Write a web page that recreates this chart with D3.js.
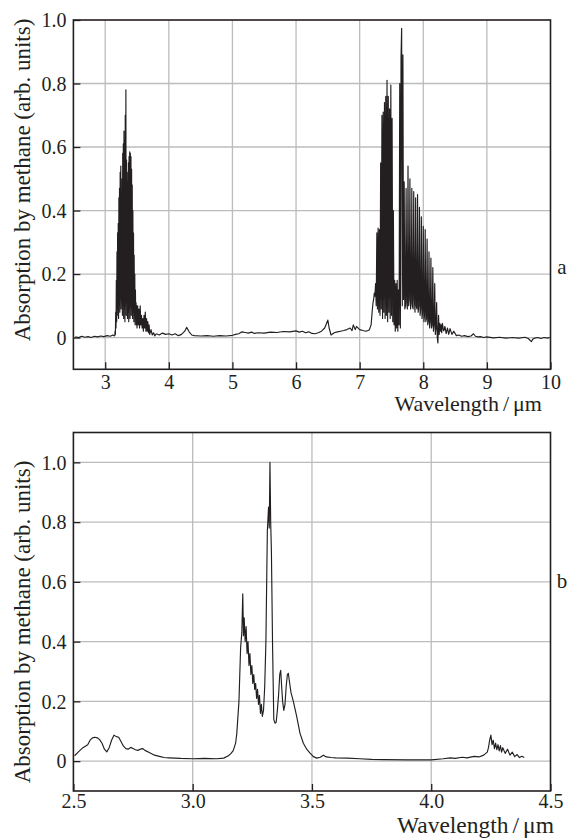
<!DOCTYPE html>
<html lang="en">
<head>
<meta charset="utf-8">
<title>Absorption by methane</title>
<script src="https://cdnjs.cloudflare.com/ajax/libs/d3/7.8.5/d3.min.js"></script>
<style>
  body { margin: 0; background: #fff; }
  svg { display: block; }
</style>
</head>
<body>
<div id="chart"></div>
<script>
// ---- panel a: 2.5 - 10 um, [wavelength, absorption] ----
var aBaseline = [
  [2.53, 0.002], [2.58, 0.0], [2.63, 0.004], [2.68, 0.001], [2.73, 0.003], [2.78, 0.0],
  [2.83, 0.004], [2.88, 0.002], [2.93, 0.005], [2.98, 0.003], [3.03, 0.006], [3.08, 0.004],
  [3.12, 0.008], [3.145, 0.005]
];
var aBand3 = [
  [3.150, 0.005], [3.155, 0.02], [3.160, 0.01], [3.165, 0.08], [3.170, 0.03], [3.175, 0.18],
  [3.180, 0.05], [3.185, 0.27], [3.190, 0.07], [3.195, 0.33], [3.200, 0.09], [3.205, 0.36],
  [3.210, 0.06], [3.215, 0.44], [3.220, 0.10], [3.225, 0.47], [3.230, 0.08], [3.235, 0.52],
  [3.240, 0.12], [3.245, 0.54], [3.250, 0.09], [3.255, 0.46], [3.260, 0.11], [3.265, 0.50],
  [3.270, 0.07], [3.275, 0.58], [3.280, 0.10], [3.285, 0.61], [3.290, 0.06], [3.295, 0.65],
  [3.300, 0.09], [3.305, 0.62], [3.310, 0.05], [3.315, 0.70], [3.320, 0.10], [3.325, 0.78],
  [3.330, 0.07], [3.335, 0.56], [3.340, 0.11], [3.345, 0.52], [3.350, 0.06], [3.355, 0.49],
  [3.360, 0.08], [3.365, 0.55], [3.370, 0.05], [3.375, 0.57], [3.380, 0.09], [3.385, 0.585],
  [3.390, 0.06], [3.395, 0.58], [3.400, 0.10], [3.405, 0.57], [3.410, 0.07], [3.415, 0.53],
  [3.420, 0.09], [3.425, 0.48], [3.430, 0.06], [3.435, 0.40], [3.440, 0.08], [3.445, 0.33],
  [3.450, 0.05], [3.455, 0.26], [3.460, 0.07], [3.465, 0.20], [3.470, 0.04], [3.475, 0.15],
  [3.480, 0.06], [3.485, 0.11], [3.490, 0.04], [3.495, 0.10], [3.500, 0.03],
  [3.51, 0.10], [3.52, 0.04], [3.53, 0.09], [3.54, 0.03], [3.55, 0.10], [3.56, 0.04],
  [3.57, 0.07], [3.58, 0.03], [3.59, 0.06], [3.60, 0.02], [3.61, 0.07], [3.62, 0.03],
  [3.63, 0.08], [3.64, 0.02], [3.65, 0.06], [3.66, 0.02], [3.67, 0.05], [3.68, 0.015],
  [3.69, 0.04], [3.70, 0.01], [3.72, 0.025], [3.74, 0.008], [3.76, 0.015], [3.78, 0.005]
];
var aMiddle = [
  [3.80, 0.012], [3.85, 0.008], [3.90, 0.014], [3.95, 0.01], [4.00, 0.012], [4.05, 0.008],
  [4.10, 0.012], [4.15, 0.006], [4.20, 0.01], [4.25, 0.02], [4.28, 0.032], [4.32, 0.018],
  [4.36, 0.008], [4.40, 0.006], [4.50, 0.005], [4.60, 0.006], [4.70, 0.004], [4.80, 0.006],
  [4.90, 0.005], [5.00, 0.007], [5.05, 0.01], [5.10, 0.012], [5.15, 0.018], [5.20, 0.016],
  [5.25, 0.014], [5.30, 0.017], [5.35, 0.013], [5.40, 0.015], [5.50, 0.014], [5.60, 0.017],
  [5.70, 0.016], [5.80, 0.019], [5.90, 0.018], [6.00, 0.021], [6.05, 0.017], [6.10, 0.02],
  [6.15, 0.015], [6.20, 0.018], [6.25, 0.013], [6.30, 0.012], [6.35, 0.015], [6.40, 0.02],
  [6.45, 0.03], [6.48, 0.045], [6.50, 0.055], [6.52, 0.03], [6.55, 0.008], [6.60, 0.015],
  [6.65, 0.018], [6.70, 0.02], [6.75, 0.022], [6.80, 0.025], [6.85, 0.03], [6.88, 0.022],
  [6.90, 0.04], [6.93, 0.025], [6.95, 0.035], [7.00, 0.025], [7.05, 0.022], [7.10, 0.02],
  [7.15, 0.024], [7.18, 0.04]
];
var aBand7 = [
  [7.20, 0.09], [7.21, 0.11], [7.22, 0.12], [7.23, 0.14], [7.24, 0.13], [7.25, 0.17],
  [7.26, 0.10], [7.27, 0.33], [7.28, 0.09], [7.29, 0.345], [7.30, 0.08], [7.31, 0.34],
  [7.32, 0.07], [7.33, 0.55], [7.34, 0.09], [7.35, 0.70], [7.36, 0.06], [7.37, 0.71],
  [7.38, 0.08], [7.39, 0.74], [7.40, 0.06], [7.41, 0.76], [7.42, 0.07], [7.43, 0.81],
  [7.44, 0.05], [7.45, 0.76], [7.46, 0.08], [7.47, 0.72], [7.48, 0.06], [7.49, 0.795],
  [7.50, 0.07], [7.51, 0.69], [7.52, 0.05], [7.53, 0.40], [7.54, 0.04], [7.55, 0.18],
  [7.56, 0.02], [7.57, 0.17], [7.58, 0.03], [7.59, 0.18], [7.60, 0.02], [7.61, 0.15],
  [7.62, 0.04], [7.63, 0.80], [7.64, 0.03], [7.65, 0.88], [7.66, 0.974], [7.67, 0.10],
  [7.68, 0.89], [7.69, 0.12], [7.70, 0.49], [7.71, 0.09], [7.72, 0.10], [7.73, 0.47],
  [7.74, 0.11], [7.75, 0.09], [7.76, 0.54], [7.77, 0.10], [7.78, 0.12], [7.79, 0.50],
  [7.80, 0.09], [7.81, 0.11], [7.82, 0.47], [7.83, 0.10], [7.84, 0.09], [7.85, 0.46],
  [7.86, 0.12], [7.87, 0.08], [7.88, 0.44], [7.89, 0.10], [7.90, 0.09], [7.91, 0.45],
  [7.92, 0.08], [7.93, 0.10], [7.94, 0.41], [7.95, 0.07], [7.96, 0.09], [7.97, 0.38],
  [7.98, 0.06], [7.99, 0.08], [8.00, 0.35], [8.01, 0.05], [8.02, 0.07], [8.03, 0.34],
  [8.04, 0.05], [8.05, 0.06], [8.06, 0.31], [8.07, 0.04], [8.08, 0.05], [8.09, 0.27],
  [8.10, 0.03], [8.11, 0.05], [8.12, 0.25], [8.13, 0.03], [8.14, 0.04], [8.15, 0.22],
  [8.16, 0.02], [8.17, 0.04], [8.18, 0.17], [8.19, 0.01], [8.20, 0.03], [8.21, 0.11],
  [8.22, 0.0], [8.23, -0.017], [8.24, 0.07], [8.25, 0.01], [8.26, 0.045], [8.27, 0.02],
  [8.28, 0.04], [8.29, 0.015], [8.30, 0.045]
];
var aTail = [
  [8.32, 0.02], [8.34, 0.035], [8.36, 0.012], [8.38, 0.03], [8.40, 0.01], [8.42, 0.028],
  [8.45, 0.01], [8.48, 0.02], [8.52, 0.006], [8.56, 0.008], [8.60, 0.004], [8.65, 0.006],
  [8.70, 0.003], [8.75, 0.005], [8.79, 0.012], [8.82, 0.004], [8.86, 0.002], [8.90, 0.003],
  [8.95, 0.0], [9.00, 0.002], [9.10, -0.001], [9.20, 0.001], [9.30, -0.002], [9.40, 0.0],
  [9.50, -0.002], [9.60, 0.001], [9.65, -0.003], [9.70, -0.013], [9.72, -0.005], [9.75, -0.002],
  [9.80, 0.0], [9.85, -0.003], [9.90, 0.0], [9.95, -0.002], [9.99, 0.0]
];

// ---- panel b: 2.5 - 4.5 um ----
var bSpectrum = [
  [2.505, 0.018], [2.52, 0.03], [2.54, 0.045], [2.56, 0.055], [2.57, 0.07], [2.58, 0.078],
  [2.59, 0.08], [2.60, 0.078], [2.61, 0.072], [2.62, 0.06], [2.63, 0.04], [2.64, 0.031],
  [2.65, 0.045], [2.66, 0.07], [2.67, 0.087], [2.68, 0.082], [2.69, 0.08], [2.70, 0.065],
  [2.71, 0.05], [2.72, 0.042], [2.73, 0.04], [2.74, 0.046], [2.75, 0.042], [2.76, 0.038],
  [2.77, 0.036], [2.78, 0.04], [2.79, 0.042], [2.80, 0.036], [2.82, 0.028], [2.84, 0.02],
  [2.86, 0.016], [2.88, 0.012], [2.90, 0.011], [2.95, 0.009], [3.00, 0.008], [3.05, 0.009],
  [3.10, 0.008], [3.13, 0.01], [3.15, 0.018], [3.16, 0.025], [3.17, 0.035], [3.18, 0.06],
  [3.185, 0.093], [3.194, 0.2], [3.201, 0.38], [3.206, 0.43], [3.210, 0.56], [3.213, 0.42],
  [3.216, 0.48], [3.220, 0.40], [3.224, 0.45], [3.228, 0.36], [3.232, 0.40], [3.236, 0.32],
  [3.240, 0.36], [3.244, 0.29], [3.248, 0.32], [3.252, 0.26], [3.256, 0.29], [3.260, 0.24],
  [3.264, 0.26], [3.268, 0.21], [3.272, 0.24], [3.276, 0.19], [3.280, 0.22], [3.284, 0.16],
  [3.288, 0.19], [3.292, 0.15], [3.297, 0.17], [3.302, 0.25], [3.307, 0.40], [3.313, 0.77],
  [3.318, 0.85], [3.321, 0.78], [3.324, 1.0], [3.327, 0.80], [3.330, 0.706], [3.335, 0.38],
  [3.340, 0.14], [3.345, 0.127], [3.350, 0.13], [3.355, 0.17], [3.360, 0.22], [3.365, 0.29],
  [3.369, 0.304], [3.373, 0.25], [3.377, 0.20], [3.382, 0.17], [3.387, 0.19], [3.392, 0.25],
  [3.397, 0.29], [3.401, 0.294], [3.405, 0.27], [3.412, 0.23], [3.422, 0.20], [3.436, 0.15],
  [3.450, 0.093], [3.464, 0.06], [3.478, 0.04], [3.492, 0.027], [3.506, 0.015], [3.52, 0.01],
  [3.535, 0.013], [3.548, 0.02], [3.56, 0.014], [3.58, 0.012], [3.60, 0.011], [3.65, 0.01],
  [3.70, 0.008], [3.75, 0.006], [3.80, 0.005], [3.90, 0.004], [4.00, 0.004], [4.05, 0.008],
  [4.08, 0.011], [4.10, 0.009], [4.13, 0.013], [4.15, 0.011], [4.18, 0.016], [4.20, 0.014],
  [4.22, 0.02], [4.235, 0.03], [4.24, 0.045], [4.245, 0.07], [4.25, 0.087], [4.255, 0.055],
  [4.26, 0.07], [4.265, 0.042], [4.27, 0.06], [4.275, 0.038], [4.28, 0.055], [4.285, 0.034],
  [4.29, 0.052], [4.295, 0.03], [4.30, 0.045], [4.31, 0.026], [4.32, 0.04], [4.33, 0.02],
  [4.34, 0.03], [4.35, 0.015], [4.36, 0.022], [4.37, 0.012], [4.38, 0.016], [4.39, 0.012]
];

// ticks
var aXTicks = [3, 4, 5, 6, 7, 8, 9, 10];
var bXTicks = [2.5, 3.0, 3.5, 4.0, 4.5];
var yTicks = [0, 0.2, 0.4, 0.6, 0.8, 1.0];
var yTitle = "Absorption by methane (arb. units)";

var width = 579, height = 839;
var ink = "#231f20";
var serif = "'Liberation Serif', 'Times New Roman', Tinos, serif";

var svg = d3.select("#chart")
    .append("svg")
    .attr("width", width)
    .attr("height", height)
    .style("background-color", "white")
    .style("font-family", serif);

var line = d3.line();

function drawPanel(p) {
    var x = d3.scaleLinear().domain(p.xDomain).range([73.4, 550.5]);
    var y = d3.scaleLinear().domain(p.yDomain).range([p.bottom, p.top]);
    var g = svg.append("g");

    // grid lines, skip the ones that sit on the frame
    g.append("g").selectAll("line")
        .data(p.xTicks.filter(function(d) { return d > p.xDomain[0] && d < p.xDomain[1]; }))
        .enter().append("line")
        .attr("x1", function(d) { return x(d); })
        .attr("x2", function(d) { return x(d); })
        .attr("y1", p.top).attr("y2", p.bottom)
        .style("stroke", "#bcbcbc").style("stroke-width", 1.3);
    g.append("g").selectAll("line")
        .data(yTicks.filter(function(d) { return y(d) > p.top + 1; }))
        .enter().append("line")
        .attr("x1", x.range()[0]).attr("x2", x.range()[1])
        .attr("y1", function(d) { return y(d); })
        .attr("y2", function(d) { return y(d); })
        .style("stroke", "#bcbcbc").style("stroke-width", 1.3);

    // spectrum
    line.x(function(d) { return x(d[0]); }).y(function(d) { return y(d[1]); });
    p.series.forEach(function(s) {
        g.append("path")
            .attr("d", line(s))
            .style("fill", "none")
            .style("stroke", ink)
            .style("stroke-width", 1.15)
            .style("stroke-linejoin", "round");
    });

    // axes with inward ticks
    var xAxis = g.append("g")
        .attr("transform", "translate(0," + p.bottom + ")")
        .call(d3.axisBottom(x).tickValues(p.xTicks).tickFormat(p.xFormat)
            .tickSizeInner(-7).tickSizeOuter(0));
    xAxis.select(".domain").remove();
    xAxis.selectAll("line").style("stroke", ink).style("stroke-width", 1.3);
    xAxis.selectAll("text")
        .attr("y", p.xLabelY).attr("dy", null)
        .style("fill", ink)
        .style("font-size", "20px").style("font-family", serif);

    var yAxis = g.append("g")
        .attr("transform", "translate(" + x.range()[0] + ",0)")
        .call(d3.axisLeft(y).tickValues(yTicks)
            .tickFormat(function(d) { return d === 0 ? "0" : d3.format(".1f")(d); })
            .tickSizeInner(-7).tickSizeOuter(0).tickPadding(7));
    yAxis.select(".domain").remove();
    yAxis.selectAll("line").style("stroke", ink).style("stroke-width", 1.3);
    yAxis.selectAll("text").attr("dy", "0.34em")
        .style("fill", ink)
        .style("font-size", "20px").style("font-family", serif);

    // frame
    g.append("rect")
        .attr("x", x.range()[0]).attr("y", p.top)
        .attr("width", x.range()[1] - x.range()[0])
        .attr("height", p.bottom - p.top)
        .style("fill", "none").style("stroke", ink).style("stroke-width", 1.6);

    // titles
    var xt = g.append("text")
        .attr("x", p.xTitleRight).attr("y", p.xTitleY)
        .attr("text-anchor", "end")
        .style("fill", ink).style("font-family", serif)
        .style("font-size", p.xTitleSize + "px");
    xt.append("tspan").text("Wavelength");
    xt.append("tspan").attr("dx", 4).text("/");
    xt.append("tspan").attr("dx", 4).text("\u03bcm");

    g.append("text")
        .attr("transform", "translate(29.5," + p.yTitleMid + ") rotate(-90)")
        .attr("text-anchor", "middle")
        .style("fill", ink).style("font-family", serif)
        .style("font-size", "23px")
        .text(yTitle);

    g.append("text")
        .attr("x", 562).attr("y", p.tagY)
        .attr("text-anchor", "middle")
        .style("fill", ink).style("font-family", serif)
        .style("font-size", "21px")
        .text(p.tag);
}

drawPanel({
    xDomain: [2.5, 10], yDomain: [-0.1, 1.0], top: 20, bottom: 369.3,
    xTicks: aXTicks, xFormat: d3.format("d"),
    series: [aBaseline, aBand3, aMiddle, aBand7, aTail].map(function(s, i, all) {
        // join each segment to the start of the next one
        return i < all.length - 1 ? s.concat([all[i + 1][0]]) : s;
    }),
    xLabelY: 19.5, xTitleRight: 542, xTitleY: 411, xTitleSize: 22,
    yTitleMid: 180, tag: "a", tagY: 274
});

drawPanel({
    xDomain: [2.5, 4.5], yDomain: [-0.1, 1.1], top: 432.5, bottom: 791,
    xTicks: bXTicks, xFormat: d3.format(".1f"),
    series: [bSpectrum],
    xLabelY: 17, xTitleRight: 554, xTitleY: 833, xTitleSize: 23.5,
    yTitleMid: 622, tag: "b", tagY: 588
});
</script>
</body>
</html>
